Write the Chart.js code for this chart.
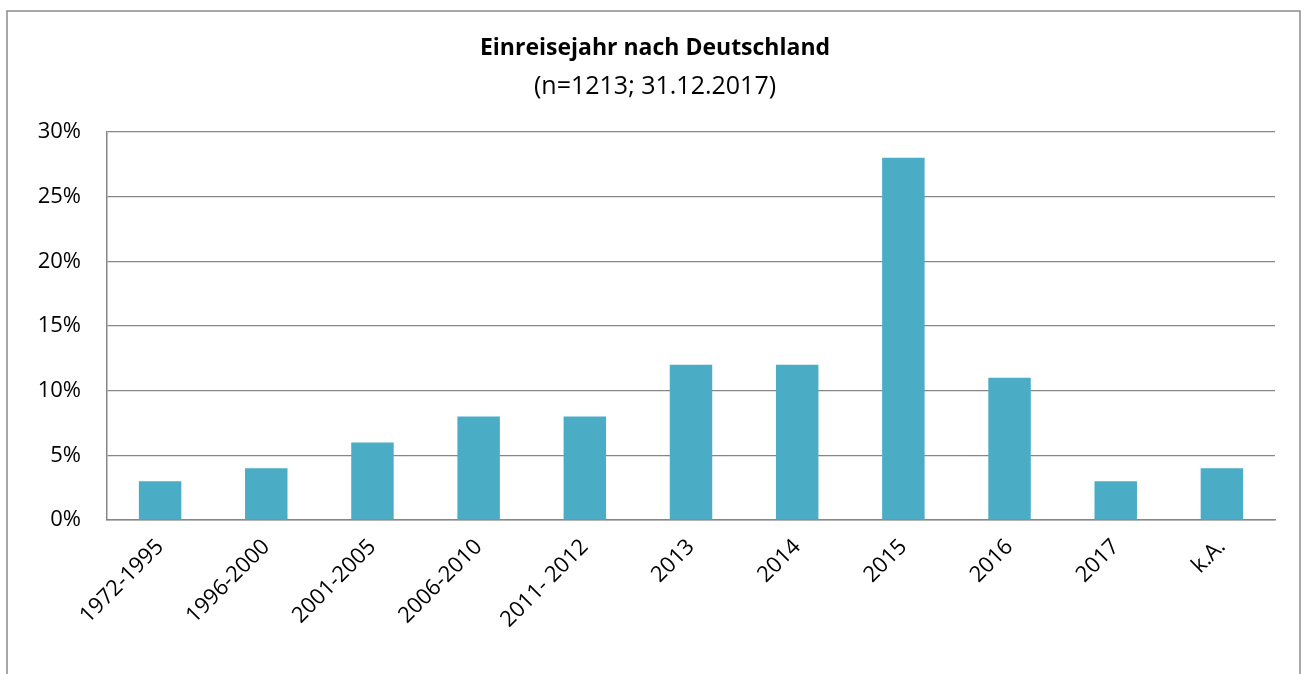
<!DOCTYPE html>
<html><head><meta charset="utf-8">
<script src="https://cdn.jsdelivr.net/npm/chart.js@4"></script>
<style>html,body{margin:0;padding:0;background:#fff;}#wrap{width:1305px;height:674px;position:relative;}</style>
</head><body><div id="wrap"><canvas id="c" width="1305" height="674"></canvas></div>
<script>
const categories = ["1972-1995","1996-2000","2001-2005","2006-2010","2011- 2012","2013","2014","2015","2016","2017","k.A."];
const shares = [3,4,6,8,8,12,12,28,11,3,4];
const yTicks = [0,5,10,15,20,25,30];
const titleText = "Einreisejahr nach Deutschland";
const subtitleText = "(n=1213; 31.12.2017)";

const FONT = "'Open Sans', 'Liberation Sans', sans-serif";
const frame = {
  id:'frame',
  afterDraw(chart){
    const ctx = chart.ctx;
    ctx.save();
    ctx.strokeStyle = '#8c8c8c';
    ctx.lineWidth = 1.5;
    ctx.strokeRect(7, 11, 1293, 700);
    ctx.restore();
  }
};
new Chart(document.getElementById('c'), {
  type:'bar',
  data:{labels:categories,datasets:[{data:shares,backgroundColor:'#4BACC6',barPercentage:0.4,categoryPercentage:1.0}]},
  options:{
    responsive:false,animation:false,
    layout:{padding:{left:35,right:30,top:0,bottom:0},autoPadding:false},
    plugins:{
      legend:{display:false},tooltip:{enabled:false},
      title:{display:true,text:titleText,color:'#000',font:{family:FONT,size:23,weight:'bold',lineHeight:1.2},padding:{top:34.2,bottom:0}},
      subtitle:{display:true,text:subtitleText,color:'#000',font:{family:FONT,size:25,lineHeight:1.2},padding:{top:10.2,bottom:30}}
    },
    scales:{
      x:{
        grid:{display:false,drawTicks:false},
        border:{display:true,color:'#868686',width:1.5},
        ticks:{color:'#000',font:{family:FONT,size:22},maxRotation:45,minRotation:45,padding:14,autoSkip:false},
        afterFit(s){s.height=154;}
      },
      y:{
        min:0,max:30,
        grid:{color:'#868686',lineWidth:1.2,drawTicks:false},
        border:{display:true,color:'#868686',width:1.5},
        afterBuildTicks(s){s.ticks=yTicks.map(v=>({value:v}));},
        ticks:{color:'#000',font:{family:FONT,size:22},padding:26,callback:v=>v+'%'},
        afterFit(s){s.width=72;}
      }
    }
  },
  plugins:[frame]
});
</script></body></html>
